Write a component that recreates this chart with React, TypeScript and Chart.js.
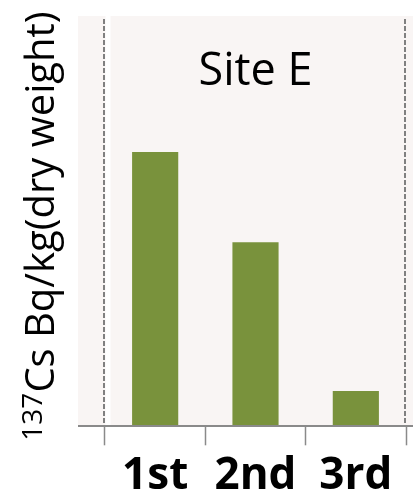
import React, { useEffect, useRef } from "react";
import { Chart, registerables } from "chart.js";

Chart.register(...registerables);

const categories = ["1st", "2nd", "3rd"];
const values = [66.8, 44.7, 8.4];
const yMin = 0;
const yMax = 100;
const panelTitle = "Site E";
const axisTitleSup = "137";
const axisTitleMain = "Cs Bq/kg(dry weight)";

const FONT = "'Open Sans', 'Noto Sans', sans-serif";

export default function App() {
  const ref = useRef<HTMLCanvasElement>(null);

  useEffect(() => {
    if (!ref.current) return;

    const decor = {
      id: "decor",
      beforeDraw(chart: any) {
        const { ctx, chartArea: a } = chart;
        ctx.save();
        // panel background
        ctx.fillStyle = "#f9f5f4";
        ctx.fillRect(a.left - 27, a.top, chart.width - (a.left - 27), a.bottom - a.top);
        // thin white stripe next to left dashed line
        ctx.fillStyle = "#ffffff";
        ctx.fillRect(a.left + 0.5, a.top, 5, a.bottom - a.top);
        // dashed boundary lines
        ctx.strokeStyle = "#808080";
        ctx.lineWidth = 2;
        ctx.setLineDash([5, 2]);
        for (const x of [Math.round(a.left - 1), Math.round(a.right - 1)]) {
          ctx.beginPath();
          ctx.moveTo(x, a.top + 3);
          ctx.lineTo(x, a.bottom);
          ctx.stroke();
        }
        ctx.restore();
      },
      afterDraw(chart: any) {
        const { ctx, chartArea: a } = chart;
        ctx.save();
        // axis line
        ctx.strokeStyle = "#8a8a8a";
        ctx.lineWidth = 2;
        ctx.beginPath();
        ctx.moveTo(a.left - 27, Math.round(a.bottom + 1));
        ctx.lineTo(chart.width, Math.round(a.bottom + 1));
        ctx.stroke();

        // panel title
        ctx.fillStyle = "#000000";
        ctx.font = `45px ${FONT}`;
        ctx.textAlign = "center";
        ctx.textBaseline = "alphabetic";
        ctx.fillText(panelTitle, (a.left + a.right) / 2, 85);

        // y axis title with superscript
        ctx.translate(54, 226);
        ctx.rotate(-Math.PI / 2);
        ctx.textAlign = "left";
        const supFont = `28px ${FONT}`;
        const mainFont = `40px ${FONT}`;
        ctx.font = supFont;
        const ws = ctx.measureText(axisTitleSup).width;
        ctx.font = mainFont;
        const wm = ctx.measureText(axisTitleMain).width;
        const x0 = -(ws + wm) / 2;
        ctx.font = supFont;
        ctx.fillText(axisTitleSup, x0, -12);
        ctx.font = mainFont;
        ctx.fillText(axisTitleMain, x0 + ws, 0);
        ctx.restore();
      },
    };

    const chart = new Chart(ref.current, {
      type: "bar",
      data: {
        labels: categories,
        datasets: [
          {
            data: values,
            backgroundColor: "#79923c",
            borderWidth: 0,
            barPercentage: 0.46,
            categoryPercentage: 1,
          },
        ],
      },
      options: {
        responsive: false,
        animation: false,
        devicePixelRatio: 1,
        layout: { padding: { left: 105, right: 7, top: 16, bottom: -13.5 } },
        plugins: {
          legend: { display: false },
          title: { display: false },
          tooltip: { enabled: false },
        },
        scales: {
          x: {
            offset: true,
            border: { display: false },
            grid: {
              offset: true,
              drawOnChartArea: false,
              drawTicks: true,
              tickLength: 20,
              tickColor: "#8a8a8a",
              tickWidth: 1.5,
            },
            ticks: {
              color: "#000000",
              padding: 14,
              maxRotation: 0,
              font: { family: FONT, size: 44, weight: "bold", lineHeight: 0.8 },
            },
          },
          y: {
            display: false,
            min: yMin,
            max: yMax,
          },
        },
      },
      plugins: [decor],
    });

    if ((document as any).fonts && (document as any).fonts.ready) {
      (document as any).fonts.ready.then(() => chart.update());
    }

    return () => chart.destroy();
  }, []);

  return (
    <div style={{ position: "absolute", left: 0, top: 0, width: 413, height: 495, background: "#ffffff" }}>
      <canvas ref={ref} width={413} height={495} style={{ display: "block" }} />
    </div>
  );
}
